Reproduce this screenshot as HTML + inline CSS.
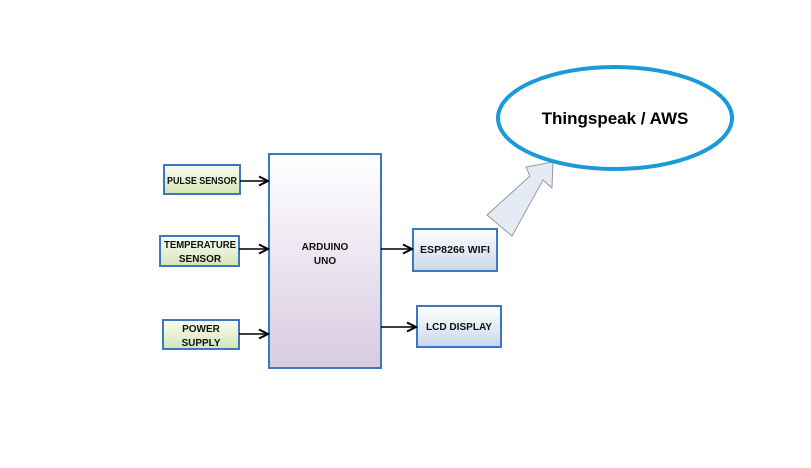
<!DOCTYPE html>
<html><head><style>
body{margin:0;background:#fff;}
svg text{font-family:"Liberation Sans",sans-serif;font-weight:bold;}
</style></head><body>
<svg width="811" height="463" viewBox="0 0 811 463">
<defs>
<linearGradient id="g" x1="0" y1="0" x2="0" y2="1"><stop offset="0" stop-color="#fbfdf4"/><stop offset="1" stop-color="#d4e4b4"/></linearGradient>
<linearGradient id="p" x1="0" y1="0" x2="0" y2="1"><stop offset="0" stop-color="#ffffff"/><stop offset="1" stop-color="#d8cbe0"/></linearGradient>
<linearGradient id="b" x1="0" y1="0" x2="0" y2="1"><stop offset="0" stop-color="#ffffff"/><stop offset="1" stop-color="#c8d8ea"/></linearGradient>
<marker id="a" markerWidth="8" markerHeight="8" refX="7" refY="4" orient="auto"><path d="M1,1 L7,4 L1,7" fill="none" stroke="#000" stroke-width="1.3"/></marker>
</defs>
<g stroke="#3a78c2" stroke-width="2">
<rect x="164" y="165" width="76" height="29" fill="url(#g)"/>
<rect x="160" y="236" width="79" height="30" fill="url(#g)"/>
<rect x="163" y="320" width="76" height="29" fill="url(#g)"/>
<rect x="269" y="154" width="112" height="214" fill="url(#p)"/>
<rect x="413" y="229" width="84" height="42" fill="url(#b)"/>
<rect x="417" y="306" width="84" height="41" fill="url(#b)"/>
</g>
<g stroke="#000" stroke-width="1.5" marker-end="url(#a)">
<line x1="240" y1="181" x2="268" y2="181"/>
<line x1="239" y1="249" x2="268" y2="249"/>
<line x1="239" y1="334" x2="268" y2="334"/>
<line x1="381" y1="249" x2="412" y2="249"/>
<line x1="381" y1="327" x2="416" y2="327"/>
</g>
<g font-size="10" text-anchor="middle" fill="#111">
<text x="202" y="184" textLength="70" lengthAdjust="spacingAndGlyphs">PULSE SENSOR</text>
<text x="200" y="248" textLength="72" lengthAdjust="spacingAndGlyphs">TEMPERATURE</text>
<text x="200" y="262">SENSOR</text>
<text x="201" y="332">POWER</text>
<text x="201" y="346">SUPPLY</text>
<text x="325" y="250">ARDUINO</text>
<text x="325" y="264">UNO</text>
<text x="455" y="253" textLength="70" lengthAdjust="spacingAndGlyphs">ESP8266 WIFI</text>
<text x="459" y="330" textLength="66" lengthAdjust="spacingAndGlyphs">LCD DISPLAY</text>
</g>
<polygon points="487,215 530,176 526,167 553,162 552,188 543,180 512,236" fill="#e4ebf5" stroke="#999" stroke-width="1"/>
<ellipse cx="615" cy="118" rx="117" ry="51" fill="#fff" stroke="#1a9ad8" stroke-width="4"/>
<text x="615" y="124" font-size="17" text-anchor="middle" fill="#000">Thingspeak / AWS</text>
</svg>
</body></html>
